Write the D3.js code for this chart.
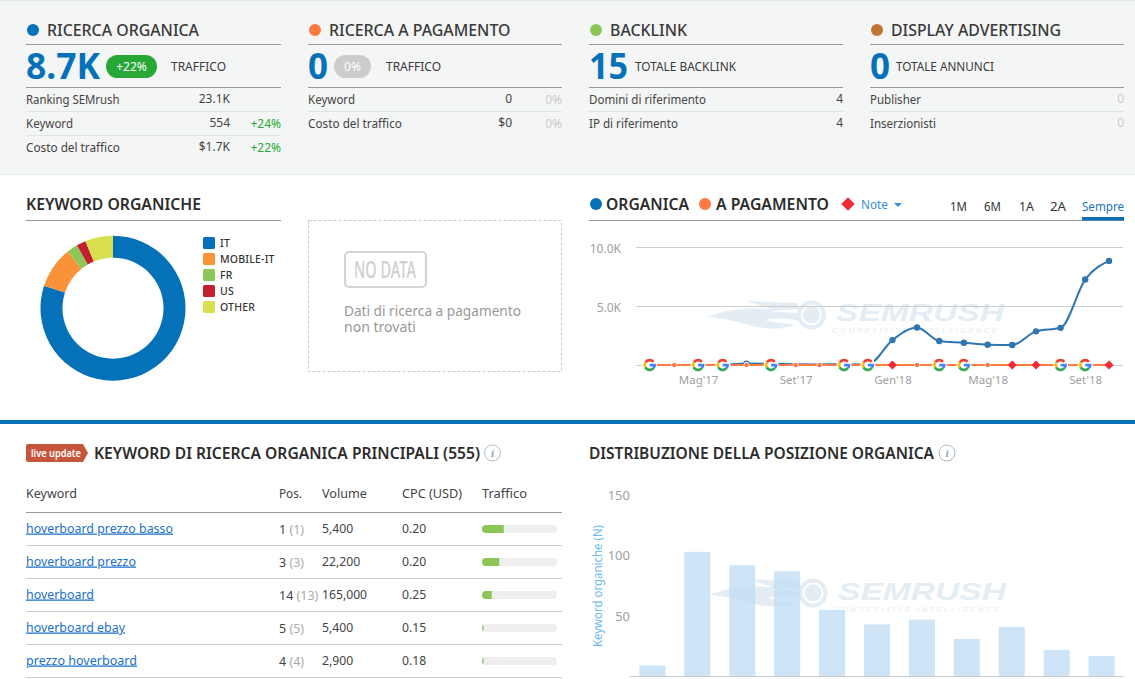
<!DOCTYPE html>
<html><head><meta charset="utf-8">
<style>html,body{margin:0;padding:0;background:#fff;overflow:hidden}svg{display:block}text{font-family:"Noto Sans",sans-serif}</style>
<script src="https://cdn.jsdelivr.net/npm/d3@7/dist/d3.min.js"></script>
</head><body><svg id="c" width="1135" height="679"></svg>
<script>
// ---- data ----
const months = ["2017-03","2017-04","2017-05","2017-06","2017-07","2017-08","2017-09","2017-10","2017-11","2017-12","2018-01","2018-02","2018-03","2018-04","2018-05","2018-06","2018-07","2018-08","2018-09","2018-10"];
const organicValues = [0,0,0,30,120,100,60,50,60,40,2110,3180,2030,1890,1720,1690,2850,3150,7240,8820];
const paidValues = [0,0,0,0,0,0,0,0,0,0,0,0,0,0,0,0,0,0,0,0];
const noteTypes = ["g","o","g","g","o","g","o","o","g","g","d","o","g","g","o","d","d","g","g","d"];
const lineYTicks = [0,5000,10000];
const lineYLabels = ["","5.0K","10.0K"];
const lineXTicks = ["2017-05","2017-09","2018-01","2018-05","2018-09"];
const lineXLabels = ["Mag'17","Set'17","Gen'18","Mag'18","Set'18"];
const donutCats = ["IT","MOBILE-IT","FR","US","OTHER"];
const donutValues = [80,9.3,2.4,2.1,6.2];
const donutColors = ["#0571b8","#f99239","#8cc657","#c2202f","#d9e04f"];
const posCats = ["1","2","3","4","5","6","7","8","9","10","11"];
const posValues = [9,103,92,87,55,43,47,31,41,22,17];
const posTicks = [50,100,150];
const kwNames = ["hoverboard prezzo basso","hoverboard prezzo","hoverboard","hoverboard ebay","prezzo hoverboard"];
const kwPos = [1,3,14,5,4];
const kwPrev = [1,3,13,5,4];
const kwVolume = ["5,400","22,200","165,000","5,400","2,900"];
const kwCpc = ["0.20","0.20","0.25","0.15","0.18"];
const kwTraffic = [29,23,13,2,2];

// ---- helpers ----
const svg = d3.select("#c");
const DARK="#333", GRAY="#a0a0a0", BLUE="#0571b8", LINE="#999", SEP="#dfe5e6";
const rowLabelW={"Ranking SEMrush":93.5,"Keyword":47,"Costo del traffico":94,"Domini di riferimento":117,"IP di riferimento":89,"Publisher":51,"Inserzionisti":66};
const kwW=[147,110,68,99,111];
function T(x,y,s,o={}){
  const e=svg.append("text").attr("x",x).attr("y",y).text(s)
    .attr("font-size",o.size||12.5).attr("fill",o.fill||DARK)
    .attr("font-weight",o.weight||400).attr("text-anchor",o.anchor||"start");
  if(o.w) e.attr("textLength",o.w).attr("lengthAdjust",o.adj||"spacingAndGlyphs");
  if(o.style) e.attr("font-style",o.style);
  if(o.family) e.style("font-family",o.family);
  if(o.deco) e.attr("text-decoration",o.deco);
  if(o.ls) e.attr("letter-spacing",o.ls);
  return e;
}
function HL(x1,x2,y,c,w=1){svg.append("line").attr("x1",x1).attr("x2",x2).attr("y1",y).attr("y2",y).attr("stroke",c).attr("stroke-width",w);}
function dot(x,y,r,c){svg.append("circle").attr("cx",x).attr("cy",y).attr("r",r).attr("fill",c);}
function info(x,y){svg.append("circle").attr("cx",x).attr("cy",y).attr("r",8).attr("fill","none").attr("stroke","#a9bcc6");
  T(x,y+4,"i",{size:11,fill:"#8aa2ae",anchor:"middle",style:"italic",weight:700,family:"Liberation Serif"});}

// ---- top band ----
svg.append("rect").attr("width",1135).attr("height",174.5).attr("fill","#f4f5f5");
HL(0,1135,0.5,"#dfe8ec"); HL(0,1135,174.5,"#dfe8ec");
const cols=[
 {x:26,c:"#0571b8",t:"RICERCA ORGANICA",tw:152,big:"8.7K",bw:74,lab:"TRAFFICO",lx:171,lw:55,pill:["+22%",106,51,"#27a836"],
  rows:[["Ranking SEMrush","23.1K",""],["Keyword","554","+24%"],["Costo del traffico","$1.7K","+22%"]],vx:230,dx:281},
 {x:308,c:"#ff7a41",t:"RICERCA A PAGAMENTO",tw:181.5,big:"0",bw:20,lab:"TRAFFICO",lx:386,lw:55,pill:["0%",334,37,"#cccccc"],
  rows:[["Keyword","0","0%"],["Costo del traffico","$0","0%"]],vx:512,dx:562},
 {x:589,c:"#8cc657",t:"BACKLINK",tw:77,big:"15",bw:39,lab:"TOTALE BACKLINK",lx:635,lw:101,
  rows:[["Domini di riferimento","4",""],["IP di riferimento","4",""]],vx:843},
 {x:870,c:"#bf7431",t:"DISPLAY ADVERTISING",tw:170,big:"0",bw:20,lab:"TOTALE ANNUNCI",lx:896,lw:98,
  rows:[["Publisher","0",""],["Inserzionisti","0",""]],vx:1124,mute:true}];
cols.forEach(c=>{
  const x2=c.x+(c.x===26?255:254);
  dot(c.x+7,30,6,c.c);
  T(c.x+21,36,c.t,{size:16,weight:500,fill:"#3a3a3a",w:c.tw});
  HL(c.x,x2,44.5,LINE); HL(c.x,x2,87.5,LINE);
  T(c.x,79,c.big,{size:36,weight:700,fill:BLUE,w:c.bw});
  if(c.pill){svg.append("rect").attr("x",c.pill[1]).attr("y",55).attr("width",c.pill[2]).attr("height",23).attr("rx",11.5).attr("fill",c.pill[3]);
    T(c.pill[1]+c.pill[2]/2,71,c.pill[0],{size:12,fill:"#fff",anchor:"middle"});}
  T(c.lx,71,c.lab,{size:12,fill:"#3a3a3a",w:c.lw});
  c.rows.forEach((r,i)=>{
    const y=104+24*i;
    T(c.x,y,r[0],{size:12,fill:"#444",w:rowLabelW[r[0]]});
    T(c.vx,y-1,r[1],{size:12,fill:c.mute?"#ccc":"#444",anchor:"end"});
    if(r[2]) T(c.dx,y,r[2],{size:12,fill:r[2][0]==="+"?"#27a836":"#ccc",anchor:"end"});
    if(i<c.rows.length-1) HL(c.x,x2,111.5+24*i,SEP);
  });
});

// ---- watermark ----
function watermark(cx,cy,tx,ty,sy){
  const g=svg.append("g").attr("transform",`translate(${cx},${cy})`).attr("fill","#e4edf3");
  g.append("circle").attr("r",14.5);
  g.append("circle").attr("r",10.5).attr("fill","#fff");
  g.append("circle").attr("r",8.5);
  g.append("path").attr("d","M-105,2 C-80,-7 -60,-7 -40,-6 C-50,-9 -58,-12 -64,-14 C-45,-13 -30,-12 -14,-12 L-12,-5 C-25,-6 -35,-5 -42,-3 C-32,-4 -22,-2 -14,-2 L-13,6 C-24,3 -36,3 -46,5 C-38,7 -28,9 -16,9 C-25,14 -40,15 -54,12 C-68,9 -85,3 -105,2Z");
  T(tx,ty,"SEMRUSH",{size:24,weight:700,style:"italic",fill:"#e4edf3",w:168,family:"Liberation Sans"});
  T(tx-4,sy,"COMPETITIVE INTELLIGENCE",{size:7.5,style:"italic",fill:"#e4edf3",w:165,adj:"spacing",family:"Liberation Sans"});
}

// ---- keyword donut ----
T(26,210,"KEYWORD ORGANICHE",{size:15.5,weight:600,fill:"#2c2c2c",w:175});
HL(26,281,220.5,LINE);
const pie=d3.pie().sort(null)(donutValues.slice());
const arc=d3.arc().innerRadius(50.5).outerRadius(72.5);
const dg=svg.append("g").attr("transform","translate(113,308.2)");
dg.selectAll("path").data(pie).join("path").attr("d",arc).attr("fill",(d,i)=>donutColors[i]);
const lg=d3.scalePoint().domain(donutCats).range([243,307]);
donutCats.forEach((c,i)=>{
  svg.append("rect").attr("x",203).attr("y",lg(c)-6).attr("width",12).attr("height",12).attr("rx",1.5).attr("fill",donutColors[i]);
  T(220,lg(c)+4,c,{size:10.5,weight:500,fill:"#333",ls:0.2});
});

// ---- no data ----
svg.append("rect").attr("x",308.5).attr("y",220.5).attr("width",253).attr("height",151).attr("fill","none").attr("stroke","#c9c9c9").attr("stroke-dasharray","3,2");
svg.append("rect").attr("x",345).attr("y",252).attr("width",81).attr("height",35).attr("rx",4).attr("fill","none").attr("stroke","#d4d4d4").attr("stroke-width",2.2);
T(385,278,"NO DATA",{size:23,weight:500,fill:"#d0d0d0",anchor:"middle",w:62});
T(344,316,"Dati di ricerca a pagamento",{size:13.5,fill:"#999",w:177});
T(344,332,"non trovati",{size:13.5,fill:"#999",w:72});

// ---- line chart header ----
dot(596,204,6,BLUE);T(606,210,"ORGANICA",{size:15.5,weight:600,fill:"#2c2c2c",w:83});
dot(705,204,6,"#ff7a41");T(716,210,"A PAGAMENTO",{size:15.5,weight:600,fill:"#2c2c2c",w:113});
svg.append("path").attr("d",d3.symbol(d3.symbolSquare,90)()).attr("transform","translate(848,204) rotate(45)").attr("fill","#ef2b36");
T(861,209,"Note",{size:12.5,fill:"#3a8fd9",w:27});
svg.append("path").attr("d",d3.line()([[894,203],[902,203],[898,207]])).attr("fill","#3a8fd9");
[["1M",950,17],["6M",984,17],["1A",1019,15],["2A",1050,16]].forEach(a=>T(a[1],211,a[0],{size:12.5,fill:"#333",w:a[2]}));
T(1082,211,"Sempre",{size:12.5,fill:"#1b75bc",w:42});
HL(589,1124,220.5,LINE);
svg.append("rect").attr("x",1082).attr("y",217).attr("width",42).attr("height",3.5).attr("fill","#0f6fb4");

// ---- line chart ----
const parseM=d3.timeParse("%Y-%m");
const lx=d3.scaleTime().domain([parseM(months[0]),parseM(months[months.length-1])]).range([649.7,1109]);
const ly=d3.scaleLinear().domain([0,10000]).range([365,247]);
watermark(811.5,315,836,320.5,332.5);
const lg2=svg.append("g");
lg2.selectAll("line.g").data(lineYTicks).join("line").attr("x1",636).attr("x2",1123)
  .attr("y1",d=>ly(d)+.5).attr("y2",d=>ly(d)+.5).attr("stroke","#ccc");
const ax=svg.append("g").attr("transform","translate(0,373)").call(d3.axisBottom(lx).tickValues(lineXTicks.map(parseM)).tickSize(0).tickFormat((d,i)=>lineXLabels[i]));
ax.select(".domain").remove();
ax.selectAll("text").attr("font-size",11.5).attr("fill",GRAY).style("font-family",'"Noto Sans",sans-serif');
const ay=svg.append("g").attr("transform","translate(626,1.5)").call(d3.axisLeft(ly).tickValues(lineYTicks).tickSize(0).tickPadding(5).tickFormat((d,i)=>lineYLabels[i]));
ay.select(".domain").remove();
ay.selectAll("text").attr("font-size",12).attr("fill",GRAY).style("font-family",'"Noto Sans",sans-serif');
const lineGen=d3.line().x((d,i)=>lx(parseM(months[i]))).y(d=>ly(d)).curve(d3.curveMonotoneX);
svg.append("path").attr("d",lineGen(organicValues)).attr("fill","none").attr("stroke","#2f75b0").attr("stroke-width",2);
svg.selectAll("circle.org").data(organicValues.map((v,i)=>({v,i})).filter(d=>d.v>=100)).join("circle").attr("class","org").attr("cx",d=>lx(parseM(months[d.i]))).attr("cy",d=>ly(d.v)).attr("r",3.2).attr("fill","#2f75b0");
svg.append("path").attr("d",lineGen(paidValues)).attr("fill","none").attr("stroke","#ff7a41").attr("stroke-width",2);
const gArc=d3.arc().innerRadius(3.6).outerRadius(6.2);
const rad=Math.PI/180;
const gSegs=[["#ea4335",-58,50],["#fbbc05",-118,-58],["#34a853",-232,-118],["#4285f4",-270,-232]];
paidValues.forEach((v,i)=>{
  const x=lx(parseM(months[i])),y=ly(v),t=noteTypes[i];
  if(t==="o"){dot(x,y,3,"#fff");dot(x,y,2.3,"#ff7a41");}
  else if(t==="d"){svg.append("path").attr("d",d3.symbol(d3.symbolSquare,42)()).attr("transform",`translate(${x},${y}) rotate(45)`).attr("fill","#ef2b36");}
  else{
    const g=svg.append("g").attr("transform",`translate(${x},${y})`);
    g.append("circle").attr("r",7.5).attr("fill","#fff");
    gSegs.forEach(s=>g.append("path").attr("d",gArc({startAngle:s[1]*rad,endAngle:s[2]*rad})).attr("fill",s[0]));
    g.append("rect").attr("x",0).attr("y",-1.2).attr("width",6.2).attr("height",2.6).attr("fill","#4285f4");
  }
});

// ---- divider ----
svg.append("rect").attr("y",420).attr("width",1135).attr("height",4).attr("fill","#0571b8");

// ---- keyword table ----
svg.append("path").attr("d","M28,444H83L88,453L83,462H28Q26,462 26,460V446Q26,444 28,444Z").attr("fill","#c5563c");
T(31,457,"live update",{size:11,weight:600,fill:"#fff",w:50});
T(94,459,"KEYWORD DI RICERCA ORGANICA PRINCIPALI (555)",{size:15.5,weight:600,fill:"#2c2c2c",w:386});
info(492.5,453);
[["Keyword",26,51],["Pos.",279,23],["Volume",322,45],["CPC (USD)",402,60],["Traffico",482,45]].forEach(a=>T(a[1],498,a[0],{size:12.5,fill:"#444",w:a[2]}));
HL(26,562,512.5,LINE);
const ry=d3.scaleBand().domain(kwNames).range([512.5,677.5]);
const tx=d3.scaleLinear().domain([0,100]).range([482,557]);
kwNames.forEach((k,i)=>{
  const c=ry(k)+ry.bandwidth()/2;
  T(26,c+3.5,k,{size:12.5,fill:"#1a6fc9",deco:"underline",w:kwW[i]});
  const p=T(279,c+4.5,"",{size:12.5,fill:"#444"});
  p.append("tspan").text(kwPos[i]+" ");
  p.append("tspan").attr("fill","#aaa").text("("+kwPrev[i]+")");
  T(322,c+3.5,kwVolume[i],{size:12.2,fill:"#444"});
  T(402,c+3.5,kwCpc[i],{size:12.2,fill:"#444"});
  const clipId="cl"+i;
  svg.append("clipPath").attr("id",clipId).append("rect").attr("x",tx(0)).attr("y",c-4).attr("width",tx(100)-tx(0)).attr("height",8).attr("rx",4);
  svg.append("rect").attr("x",tx(0)).attr("y",c-4).attr("width",tx(100)-tx(0)).attr("height",8).attr("rx",4).attr("fill","#eeeeee");
  svg.append("rect").attr("x",tx(0)).attr("y",c-4).attr("width",tx(kwTraffic[i])-tx(0)).attr("height",8).attr("fill","#8cc657").attr("clip-path",`url(#${clipId})`);
  HL(26,562,ry(k)+ry.bandwidth(),"#ccc");
});

// ---- position bars ----
T(589,459,"DISTRIBUZIONE DELLA POSIZIONE ORGANICA",{size:15.5,weight:600,fill:"#2c2c2c",w:345});
info(947,453);
const bx=d3.scaleBand().domain(posCats).range([630,1124]).paddingInner(0.42).paddingOuter(0.21);
const by=d3.scaleLinear().domain([0,150]).range([676.5,495]);
watermark(813,593,838,599.5,611.5);
svg.selectAll("rect.bar").data(posValues).join("rect").attr("class","bar")
  .attr("x",(d,i)=>bx(posCats[i])).attr("width",bx.bandwidth()).attr("y",d=>by(d)).attr("height",d=>by(0)-by(d))
  .attr("fill","#c0def4").attr("fill-opacity",.8);
HL(630,1124,676.5,"#ccc");
const ay2=svg.append("g").attr("transform","translate(635,0)").call(d3.axisLeft(by).tickValues(posTicks).tickSize(0).tickPadding(5));
ay2.select(".domain").remove();
ay2.selectAll("text").attr("font-size",13).attr("fill",GRAY).style("font-family",'"Noto Sans",sans-serif');
svg.append("text").attr("transform","translate(602,586) rotate(-90)").attr("text-anchor","middle").attr("font-size",12).attr("fill","#6cb8ea").text("Keyword organiche (N)").attr("textLength",122).attr("lengthAdjust","spacingAndGlyphs");
</script></body></html>
